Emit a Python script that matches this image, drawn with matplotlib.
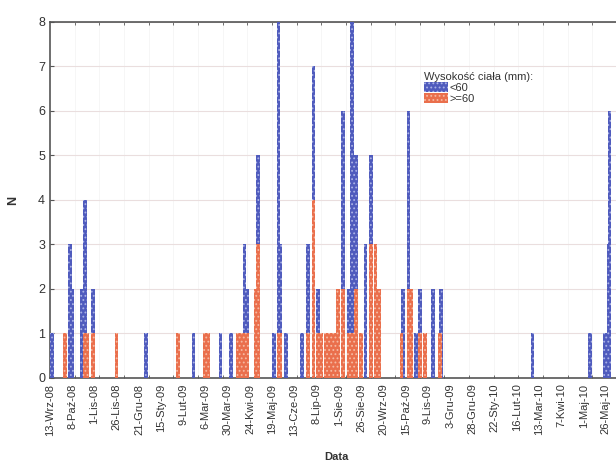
import numpy as np
import matplotlib
matplotlib.use('Agg')
import matplotlib.pyplot as plt
from matplotlib.patches import Patch

plt.rcParams['font.family'] = ['Liberation Sans', 'DejaVu Sans']
plt.rcParams['hatch.linewidth'] = 0.8

# sampling dates and counts per size class
dates = ['2008-09-15', '2008-09-30', '2008-10-05', '2008-10-08', '2008-10-18',
         '2008-10-22', '2008-10-25', '2008-10-31', '2008-11-26', '2008-12-29',
         '2009-02-03', '2009-02-20', '2009-03-05', '2009-03-09', '2009-03-22',
         '2009-04-03', '2009-04-10', '2009-04-14', '2009-04-18', '2009-04-21',
         '2009-04-30', '2009-05-03', '2009-05-21', '2009-05-26', '2009-05-28',
         '2009-06-03', '2009-06-21', '2009-06-28', '2009-07-04', '2009-07-09',
         '2009-07-13', '2009-07-18', '2009-07-22', '2009-07-27', '2009-07-31',
         '2009-08-06', '2009-08-12', '2009-08-16', '2009-08-20', '2009-08-26',
         '2009-08-31', '2009-09-06', '2009-09-11', '2009-09-15', '2009-10-10',
         '2009-10-12', '2009-10-18', '2009-10-21', '2009-10-26', '2009-10-31',
         '2009-11-05', '2009-11-14', '2009-11-22', '2009-11-23', '2010-03-05',
         '2010-05-08', '2010-05-25', '2010-05-29', '2010-05-30']
small = [1, 0, 3, 2, 2, 4, 0, 2, 0, 1,
         0, 1, 0, 0, 1, 1, 0, 0, 3, 2,
         0, 5, 1, 8, 3, 1, 1, 3, 7, 2,
         0, 0, 0, 0, 0, 6, 2, 8, 5, 1,
         3, 5, 0, 2, 0, 2, 6, 2, 1, 2,
         0, 2, 0, 2, 1, 1, 1, 3, 6]
large = [0, 1, 0, 0, 0, 1, 1, 1, 1, 0,
         1, 0, 1, 1, 0, 0, 1, 1, 1, 1,
         2, 3, 0, 1, 1, 0, 0, 1, 4, 1,
         1, 1, 1, 1, 2, 2, 1, 1, 2, 1,
         0, 3, 3, 2, 1, 0, 2, 2, 0, 1,
         1, 0, 1, 0, 0, 0, 0, 0, 0]

tick_labels = ['13-Wrz-08', '8-Paź-08', '1-Lis-08', '26-Lis-08', '21-Gru-08',
               '15-Sty-09', '9-Lut-09', '6-Mar-09', '30-Mar-09', '24-Kwi-09',
               '19-Maj-09', '13-Cze-09', '8-Lip-09', '1-Sie-09', '26-Sie-09',
               '20-Wrz-09', '15-Paź-09', '9-Lis-09', '3-Gru-09', '28-Gru-09',
               '22-Sty-10', '16-Lut-10', '13-Mar-10', '7-Kwi-10', '1-Maj-10',
               '26-Maj-10']

start = np.datetime64('2008-09-13')
x = (np.array(dates, dtype='datetime64[D]') - start).astype(int)

blue = '#4f5bbd'
red = '#ea6f4c'
text_col = '#333333'

fig = plt.figure(figsize=(6.16, 4.71), dpi=100)
ax = fig.add_axes([0.0812, 0.1975, 0.93, 0.7558])

# blue first, red drawn in front
ax.bar(x, small, width=4.0, color=blue, edgecolor='#aab2e6', hatch='....',
       linewidth=0, zorder=3)
ax.bar(x, large, width=4.0, color=red, edgecolor='#f6b9a2', hatch='....',
       linewidth=0, zorder=4)

step = 620 / 25
ax.set_xticks(np.arange(26) * step)
ax.set_xticklabels(tick_labels, rotation=90, fontsize=8, color=text_col)
ax.set_xticks(np.arange(0, 640, 27.5), minor=True)
ax.tick_params(axis='x', which='major', length=0, pad=4)
ax.tick_params(axis='x', which='minor', length=2.5, direction='in',
               top=True, bottom=True, color='#555555')
ax.set_xlim(0, 639)

ax.set_ylim(0, 8)
ax.set_yticks(range(9))
ax.tick_params(axis='y', direction='in', length=3, labelsize=9,
               labelcolor=text_col, color='#555555')
ax.yaxis.grid(True, color='#eadede', linewidth=0.8, zorder=0)
ax.xaxis.grid(True, which='minor', color='#f5f5f5', linewidth=0.6, zorder=0)

for side in ['left', 'top', 'bottom']:
    ax.spines[side].set_color('#555555')
    ax.spines[side].set_linewidth(1.2)
ax.spines['right'].set_visible(False)

ax.set_ylabel('N', fontsize=9, fontweight='bold', color=text_col, labelpad=14)
ax.set_xlabel('Data', fontsize=8, fontweight='bold', color=text_col,
              labelpad=12)

handles = [Patch(facecolor=blue, edgecolor='#aab2e6', hatch='....',
                 linewidth=0, label='<60'),
           Patch(facecolor=red, edgecolor='#f6b9a2', hatch='....',
                 linewidth=0, label='>=60')]
leg = ax.legend(handles=handles, title='Wysokość ciała (mm):',
                loc='upper left', bbox_to_anchor=(418 / 616, 1 - 66 / 471),
                bbox_transform=fig.transFigure, frameon=False, fontsize=8,
                title_fontsize=8, borderpad=0, handlelength=2.2,
                handleheight=1.0, labelspacing=0.05, handletextpad=0.15,
                alignment='left')
for t in leg.get_texts():
    t.set_color(text_col)
leg.get_title().set_color(text_col)

fig.savefig('out.png', dpi=100, facecolor='white')
